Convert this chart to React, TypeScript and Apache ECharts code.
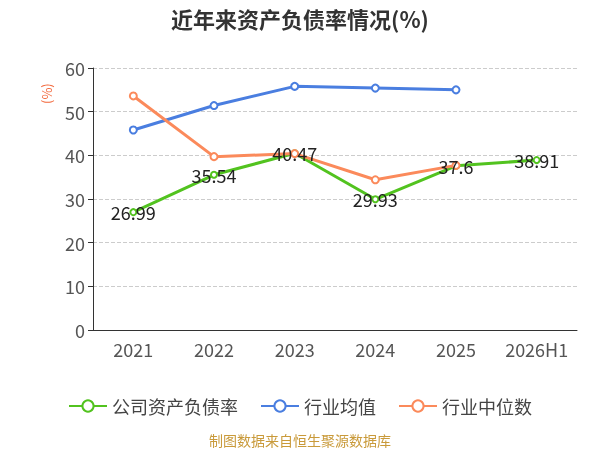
import { useEffect, useRef } from 'react'
import * as echarts from 'echarts'

const categories = ['2021', '2022', '2023', '2024', '2025', '2026H1']
const companyRatio = [26.99, 35.54, 40.47, 29.93, 37.6, 38.91]
const industryAvg = [45.8, 51.4, 55.8, 55.4, 55.0, null]
const industryMedian = [53.6, 39.7, 40.4, 34.4, 37.7, null]
const yTicks = [0, 10, 20, 30, 40, 50, 60]

const font = '"Noto Sans CJK SC", "Noto Sans", sans-serif'

function App() {
  const chartRef = useRef<HTMLDivElement | null>(null)

  useEffect(() => {
    if (!chartRef.current) {
      return undefined
    }

    const chart = echarts.init(chartRef.current, undefined, { renderer: 'svg' })
    const option: echarts.EChartsOption = {
      animation: false,
      textStyle: { fontFamily: font },
      title: {
        text: '近年来资产负债率情况(%)',
        left: 'center',
        top: 2,
        textStyle: { fontSize: 22, fontWeight: 'bold', color: '#333', fontFamily: font },
      },
      graphic: [
        {
          type: 'text',
          x: 40,
          y: 104,
          rotation: Math.PI / 2,
          style: { text: '(%)', fill: '#f2683c', fontSize: 13, fontFamily: font },
        },
        {
          type: 'text',
          left: 'center',
          top: 433,
          style: { text: '制图数据来自恒生聚源数据库', fill: '#c99a3a', fontSize: 14, fontFamily: font },
        },
      ],
      legend: {
        top: 392,
        left: 'center',
        itemWidth: 38,
        itemHeight: 14,
        itemGap: 22,
        textStyle: { fontSize: 18, color: '#444', fontFamily: font },
        data: ['公司资产负债率', '行业均值', '行业中位数'],
      },
      grid: { left: 93, right: 23, top: 68, bottom: 120 },
      xAxis: {
        type: 'category',
        data: categories,
        axisLine: { lineStyle: { color: '#333' } },
        axisTick: { lineStyle: { color: '#333' } },
        axisLabel: { fontSize: 18, color: '#555', margin: 10, interval: 0 },
      },
      yAxis: {
        type: 'value',
        min: yTicks[0],
        max: yTicks[yTicks.length - 1],
        interval: 10,
        axisLine: { show: true, lineStyle: { color: '#333' } },
        axisTick: { show: true, lineStyle: { color: '#333' } },
        axisLabel: { fontSize: 18, color: '#555' },
        splitLine: { lineStyle: { color: '#ccc', type: 'dashed' } },
      },
      series: [
        {
          name: '公司资产负债率',
          type: 'line',
          data: companyRatio,
          color: '#52c31f',
          symbol: 'emptyCircle',
          symbolSize: 6,
          lineStyle: { width: 3 },
          label: {
            show: true,
            position: 'inside',
            fontSize: 18,
            color: '#222',
          },
          z: 3,
        },
        {
          name: '行业均值',
          type: 'line',
          data: industryAvg,
          color: '#4a7ee0',
          symbol: 'emptyCircle',
          symbolSize: 7,
          lineStyle: { width: 3 },
        },
        {
          name: '行业中位数',
          type: 'line',
          data: industryMedian,
          color: '#fb8a5b',
          symbol: 'emptyCircle',
          symbolSize: 7,
          lineStyle: { width: 3 },
        },
      ],
    }

    chart.setOption(option)

    const handleResize = () => chart.resize()
    window.addEventListener('resize', handleResize)

    return () => {
      window.removeEventListener('resize', handleResize)
      chart.dispose()
    }
  }, [])

  return (
    <div
      ref={chartRef}
      style={{ position: 'fixed', left: 0, top: 0, height: 450, width: 600 }}
    />
  )
}

export default App
